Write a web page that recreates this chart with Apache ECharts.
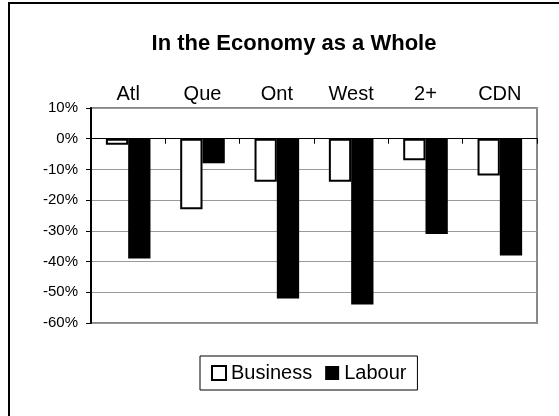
<!DOCTYPE html>
<html>
<head>
<meta charset="utf-8">
<script src="https://cdn.jsdelivr.net/npm/echarts@6/dist/echarts.min.js"></script>
<style>
html,body{margin:0;padding:0;background:#fff;}
#c{width:559px;height:416px;}
</style>
</head>
<body>
<div id="c"></div>
<script>
var categories = ['Atl', 'Que', 'Ont', 'West', '2+', 'CDN'];
var business = [-2, -23, -14, -14, -7, -12];
var labour = [-39, -8, -52, -54, -31, -38];
var yMin = -60, yMax = 10, yStep = 10;
var titleText = 'In the Economy as a Whole';

var chart = echarts.init(document.getElementById('c'), null, {renderer: 'canvas'});
var font = 'Liberation Sans, Arial, sans-serif';
chart.setOption({
  backgroundColor: '#fff',
  animation: false,
  textStyle: {fontFamily: font, color: '#000'},
  title: {
    text: titleText,
    left: 289, top: 28, textAlign: 'center',
    textStyle: {fontFamily: font, fontSize: 22, fontWeight: 'bold', color: '#000'}
  },
  graphic: [{
    type: 'rect', silent: true, z: -1,
    shape: {x: 9, y: 3, width: 700, height: 600},
    style: {fill: 'none', stroke: '#000', lineWidth: 2}
  }],
  legend: {
    left: 200, top: 356,
    padding: [7, 11],
    itemGap: 13, itemWidth: 14, itemHeight: 14,
    borderColor: '#000', borderWidth: 1,
    textStyle: {fontFamily: font, fontSize: 20, color: '#000'},
    data: [
      {name: 'Business', icon: 'rect', itemStyle: {color: '#fff', borderColor: '#000', borderWidth: 2}},
      {name: 'Labour', icon: 'rect', itemStyle: {color: '#000', borderWidth: 0}}
    ]
  },
  grid: {
    left: 91, right: 22, top: 108, bottom: 93,
    show: true, borderColor: '#888', borderWidth: 2, backgroundColor: '#fff'
  },
  xAxis: [{
    type: 'category', data: categories, position: 'top',
    axisLine: {show: false, onZero: false}, axisTick: {show: false},
    axisLabel: {fontFamily: font, fontSize: 20, color: '#000', margin: 4}
  }, {
    type: 'category', data: categories, position: 'bottom',
    axisLine: {show: true, onZero: true, lineStyle: {color: '#000', width: 1}},
    axisTick: {show: true, inside: false, length: 5, lineStyle: {color: '#000'}},
    axisLabel: {show: false}
  }],
  yAxis: {
    type: 'value', min: yMin, max: yMax, interval: yStep,
    axisLine: {show: true, onZero: false, lineStyle: {color: '#000', width: 2}},
    axisTick: {show: true, inside: false, length: 5, lineStyle: {color: '#000'}},
    axisLabel: {formatter: '{value}%', fontFamily: font, fontSize: 15, color: '#000', margin: 13},
    splitLine: {show: true, lineStyle: {color: '#999', width: 1}}
  },
  series: [{
    name: 'Business', type: 'bar', data: business, xAxisIndex: 0,
    barGap: '0%', barCategoryGap: '40%',
    itemStyle: {color: '#fff', borderColor: '#000', borderWidth: 2}
  }, {
    name: 'Labour', type: 'bar', data: labour, xAxisIndex: 0,
    barGap: '0%', barCategoryGap: '40%',
    itemStyle: {color: '#000'}
  }]
});
</script>
</body>
</html>
